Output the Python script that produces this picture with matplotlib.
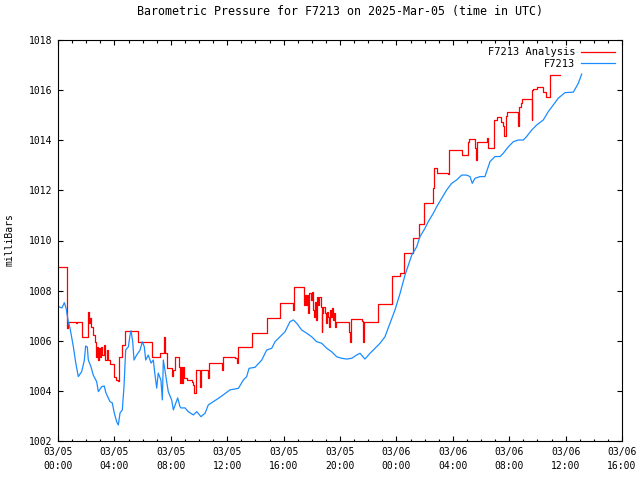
import matplotlib
matplotlib.use('Agg')
import matplotlib.pyplot as plt
from matplotlib.ticker import MultipleLocator, FuncFormatter

# hours since 2025-03-05 00:00 UTC
station_hours = [
    0.02, 0.28, 0.45, 0.57, 0.73, 0.85, 1.09, 1.26, 1.44, 1.68, 1.87, 1.96,
    2.08, 2.15, 2.34, 2.50, 2.74, 2.86, 3.10, 3.28, 3.40, 3.69, 3.85, 3.99,
    4.16, 4.28, 4.40, 4.56, 4.68, 4.80, 4.99, 5.11, 5.18, 5.30, 5.39, 5.58,
    5.82, 5.98, 6.12, 6.22, 6.40, 6.60, 6.76, 6.88, 7.00, 7.11, 7.30, 7.40,
    7.47, 7.64, 7.82, 8.06, 8.18, 8.35, 8.49, 8.65, 8.72, 9.01, 9.24, 9.60,
    9.84, 10.14, 10.43, 10.66, 11.01, 11.37, 11.72, 12.20, 12.79, 13.14,
    13.38, 13.55, 13.97, 14.45, 14.80, 15.16, 15.39, 15.74, 16.10, 16.45,
    16.69, 16.93, 17.28, 17.64, 17.99, 18.35, 18.70, 19.06, 19.41, 19.77,
    20.12, 20.48, 20.83, 21.18, 21.42, 21.77, 22.13, 22.48, 22.84, 23.19,
    23.55, 23.90, 24.26, 24.61, 25.09, 25.44, 25.67, 26.03, 26.26, 26.62,
    26.86, 27.21, 27.57, 27.92, 28.28, 28.63, 28.99, 29.22, 29.38, 29.57,
    29.93, 30.28, 30.64, 30.99, 31.35, 31.58, 31.94, 32.29, 32.65, 33.00,
    33.24, 33.60, 33.95, 34.42, 34.77, 35.13, 35.48, 35.96, 36.55, 36.90,
    37.14,
]
station_mb = [
    1007.36, 1007.31, 1007.52, 1007.31, 1006.76, 1006.51, 1005.76, 1005.11,
    1004.57, 1004.77, 1005.23, 1005.79, 1005.75, 1005.23, 1004.96, 1004.63,
    1004.37, 1003.97, 1004.17, 1004.19, 1003.92, 1003.57, 1003.52, 1003.12,
    1002.77, 1002.64, 1003.12, 1003.24, 1004.17, 1005.63, 1005.76, 1006.23,
    1006.40, 1005.96, 1005.23, 1005.43, 1005.63, 1005.96, 1005.76, 1005.23,
    1005.43, 1005.11, 1005.23, 1004.63, 1004.11, 1004.71, 1004.43, 1003.64,
    1005.23, 1004.63, 1003.97, 1003.64, 1003.24, 1003.50, 1003.72, 1003.37,
    1003.32, 1003.32, 1003.17, 1003.04, 1003.17, 1002.97, 1003.11, 1003.44,
    1003.57, 1003.70, 1003.84, 1004.04, 1004.10, 1004.43, 1004.57, 1004.90,
    1004.94, 1005.23, 1005.63, 1005.70, 1005.96, 1006.16, 1006.36, 1006.76,
    1006.83, 1006.70, 1006.43, 1006.30, 1006.16, 1005.96, 1005.90, 1005.70,
    1005.56, 1005.36, 1005.30, 1005.27, 1005.30, 1005.43, 1005.50, 1005.27,
    1005.50, 1005.70, 1005.90, 1006.16, 1006.70, 1007.23, 1007.89, 1008.62,
    1009.42, 1009.75, 1010.15, 1010.49, 1010.75, 1011.09, 1011.35, 1011.68,
    1012.02, 1012.28, 1012.42, 1012.61, 1012.61, 1012.55, 1012.28, 1012.48,
    1012.55, 1012.55, 1013.15, 1013.35, 1013.35, 1013.48, 1013.74, 1013.94,
    1014.01, 1014.01, 1014.15, 1014.41, 1014.61, 1014.81, 1015.14, 1015.41,
    1015.68, 1015.90, 1015.92, 1016.27, 1016.64,
]

# analysis value changes (held until the next entry)
analysis_hours = [
    0.00, 0.64, 0.70, 1.30, 1.38, 1.68, 2.13, 2.20, 2.28, 2.36, 2.45, 2.62,
    2.67, 2.74, 2.81, 2.91, 2.98, 3.05, 3.14, 3.24, 3.33, 3.45, 3.57, 3.69,
    3.97, 4.12, 4.28, 4.35, 4.52, 4.75, 5.70, 6.65, 7.23, 7.52, 7.58, 7.70,
    8.06, 8.18, 8.30, 8.58, 8.65, 8.72, 8.82, 8.89, 8.96, 9.13, 9.48, 9.60,
    9.67, 9.77, 10.07, 10.14, 10.61, 10.73, 11.61, 11.72, 12.55, 12.67,
    12.79, 13.74, 14.80, 15.74, 16.64, 16.74, 17.45, 17.52, 17.59, 17.68,
    17.75, 17.82, 17.92, 17.99, 18.06, 18.16, 18.23, 18.30, 18.39, 18.46,
    18.53, 18.63, 18.70, 18.74, 18.82, 18.94, 19.01, 19.10, 19.17, 19.24,
    19.29, 19.36, 19.41, 19.48, 19.57, 19.65, 19.72, 20.66, 20.71, 20.78,
    21.54, 21.61, 21.65, 21.70, 22.67, 23.67, 24.26, 24.54, 25.15, 25.62,
    25.96, 26.60, 26.69, 26.90, 27.64, 27.75, 28.63, 29.10, 29.17, 29.57,
    29.62, 29.70, 30.40, 30.52, 30.94, 31.16, 31.40, 31.55, 31.63, 31.75,
    31.87, 32.65, 32.72, 32.82, 32.89, 33.60, 33.64, 33.71, 33.95, 34.42,
    34.59, 34.90, 35.60,
]
analysis_mb = [
    1008.93, 1006.51, 1006.76, 1006.70, 1006.76, 1006.16, 1007.14, 1006.70,
    1006.90, 1006.56, 1006.23, 1005.96, 1005.36, 1005.76, 1005.23, 1005.70,
    1005.36, 1005.76, 1005.43, 1005.83, 1005.23, 1005.63, 1005.23, 1005.07,
    1004.57, 1004.45, 1004.41, 1005.36, 1005.83, 1006.40, 1005.96, 1005.36,
    1005.50, 1006.16, 1005.50, 1004.90, 1004.59, 1004.83, 1005.36, 1004.96,
    1004.30, 1004.96, 1004.30, 1004.96, 1004.50, 1004.43, 1004.37, 1004.23,
    1003.90, 1004.83, 1004.17, 1004.83, 1004.50, 1005.10, 1004.83, 1005.36,
    1005.30, 1005.12, 1005.76, 1006.30, 1006.90, 1007.49, 1007.23, 1008.13,
    1007.43, 1007.83, 1007.43, 1007.83, 1007.10, 1007.89, 1007.63, 1007.96,
    1007.23, 1006.96, 1007.56, 1006.83, 1007.76, 1007.43, 1007.76, 1007.36,
    1006.36, 1007.10, 1007.36, 1007.10, 1006.70, 1007.16, 1006.96, 1006.56,
    1007.23, 1006.96, 1007.30, 1006.83, 1007.10, 1006.56, 1006.76, 1006.36,
    1005.96, 1006.86, 1006.80, 1006.36, 1005.96, 1006.74, 1007.47, 1008.60,
    1008.69, 1009.49, 1010.11, 1010.65, 1011.48, 1012.08, 1012.88, 1012.68,
    1012.65, 1013.61, 1013.41, 1013.94, 1014.04, 1013.68, 1013.21, 1013.94,
    1014.08, 1013.68, 1014.81, 1014.92, 1014.74, 1014.55, 1014.15, 1014.97,
    1015.14, 1014.55, 1015.34, 1015.48, 1015.63, 1014.81, 1016.01, 1016.05,
    1016.11, 1015.94, 1015.74, 1016.62, 1016.62,
]

x_tick_labels = ['03/05\n00:00', '03/05\n04:00', '03/05\n08:00', '03/05\n12:00',
                 '03/05\n16:00', '03/05\n20:00', '03/06\n00:00', '03/06\n04:00',
                 '03/06\n08:00', '03/06\n12:00', '03/06\n16:00']

plt.rcParams['font.family'] = 'DejaVu Sans Mono'
plt.rcParams['font.size'] = 7

fig = plt.figure(figsize=(6.4, 4.8), dpi=100)
ax = fig.add_axes([58 / 640, 1 - 441 / 480, 564 / 640, 401 / 480])

ax.plot(analysis_hours, analysis_mb, color='#ff0000', lw=0.9,
        drawstyle='steps-post', label='F7213 Analysis')
ax.plot(station_hours, station_mb, color='#1a8cff', lw=0.9, label='F7213')

ax.set_xlim(0, 40)
ax.set_ylim(1002, 1018)
ax.xaxis.set_major_locator(MultipleLocator(4))
ax.xaxis.set_minor_locator(MultipleLocator(1))
ax.xaxis.set_major_formatter(FuncFormatter(lambda v, p: x_tick_labels[int(round(v / 4))]
                                           if 0 <= round(v / 4) < len(x_tick_labels) else ''))
ax.yaxis.set_major_locator(MultipleLocator(2))
ax.tick_params(which='both', direction='in', top=True, right=True, width=0.8)
ax.tick_params(which='major', length=3.6, pad=4)
ax.tick_params(which='minor', length=1.8)
for lbl in ax.get_xticklabels():
    lbl.set_linespacing(1.5)
for s in ax.spines.values():
    s.set_linewidth(0.8)

ax.set_title('Barometric Pressure for F7213 on 2025-Mar-05 (time in UTC)', pad=18)
fig.text(10 / 640, 1 - 240 / 480, 'milliBars', rotation=90, ha='center', va='center')

ax.legend(loc='upper right', frameon=False, markerfirst=False, handlelength=3.2,
          handletextpad=0.6, labelspacing=0.15, borderaxespad=0.3, fontsize=7.5)

fig.savefig('out.png', dpi=100)
